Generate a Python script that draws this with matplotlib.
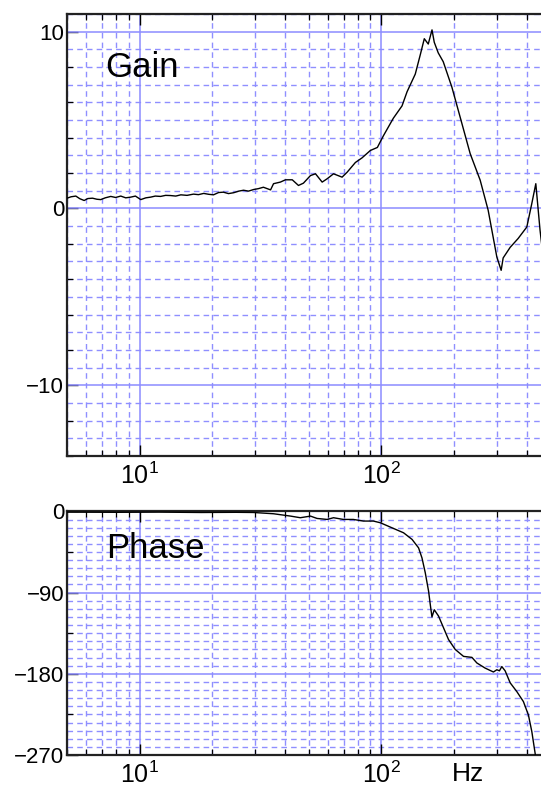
import numpy as np
import matplotlib
matplotlib.use("Agg")
import matplotlib.pyplot as plt
from matplotlib.ticker import LogLocator, FixedLocator, NullFormatter, LogFormatterSciNotation

plt.rcParams['font.family'] = ['Liberation Sans', 'DejaVu Sans']
plt.rcParams['mathtext.fontset'] = 'custom'
plt.rcParams['mathtext.rm'] = 'Liberation Sans'
plt.rcParams['mathtext.it'] = 'Liberation Sans'

# gain curve (Hz, dB)
gain_freq = [5.0, 5.2, 5.44, 5.65, 5.89, 6.1, 6.38, 6.65, 6.90, 7.2, 7.59, 7.95, 8.35,
             8.75, 9.18, 9.6, 10.1, 10.6, 11.1, 11.6, 12.2, 12.8, 13.4, 14.1,
             14.8, 15.7, 16.7, 17.5, 18.4, 19.3, 20.2, 21.2, 22.2, 23.3, 24.5, 25.7,
             26.9, 28.2, 29.6, 31.0, 32.5, 34.8, 35.8, 38.2,
             40.1, 42.8, 45.4, 47.6, 50.9, 53.4, 56.9, 59.7, 63.4, 68.8, 72.2, 78.1,
             83.2, 90.1, 96.3, 101.9, 112.1, 121.8, 127.8, 138.2, 145.0, 150.6, 156.4,
             162.1, 165.6, 172.0, 180.4, 196.0, 212.1, 233.2, 256.5, 276.8, 300.7,
             313.3, 319.3, 341.4, 368.3, 400.1, 419.6, 435.9, 453.9, 470.0]
gain_db = [0.58, 0.66, 0.70, 0.55, 0.45, 0.56, 0.58, 0.52, 0.50, 0.60, 0.68, 0.62, 0.70,
           0.60, 0.64, 0.70, 0.50, 0.60, 0.64, 0.70, 0.68, 0.74, 0.73, 0.70,
           0.77, 0.74, 0.81, 0.78, 0.85, 0.80, 0.77, 0.90, 0.92, 0.84, 0.89, 0.98,
           1.03, 0.98, 1.07, 1.12, 1.20, 1.05, 1.40, 1.49,
           1.62, 1.62, 1.30, 1.43, 1.86, 1.96, 1.49, 1.68, 1.96, 1.77, 2.05, 2.60,
           2.86, 3.28, 3.45, 4.10, 5.10, 5.80, 6.60, 7.60, 8.70, 9.60, 9.30,
           10.1, 9.40, 8.80, 8.30, 6.85, 5.15, 3.10, 1.60, -0.10, -2.75,
           -3.50, -2.80, -2.20, -1.70, -1.05, 0.28, 1.40, -1.24, -3.0]

# phase curve (Hz, degrees)
phase_freq = [5.0, 8.0, 12.0, 18.0, 25.0, 29.6, 35.8, 42.1, 46.2, 50.9, 54.2, 59.7,
              63.4, 69.7, 76.6, 84.3, 92.7, 99.1, 109.0, 123.6, 134.0, 142.6, 147.3,
              152.0, 156.9, 159.4, 162.0, 165.6, 172.5, 180.9, 189.7, 202.2, 218.9,
              237.1, 248.6, 269.0, 291.1, 300.7, 308.2, 315.3, 325.4, 341.4, 363.7,
              387.3, 406.2, 419.6, 433.0, 441.2]
phase_deg = [-0.8, -1.0, -0.8, -1.2, -1.0, -1.2, -2.6, -5.2, -7.0, -5.2, -7.8, -8.9,
             -7.0, -8.9, -8.9, -10.7, -10.7, -12.6, -17.4, -23.7, -31.0, -40.4, -51.5,
             -68.0, -88.5, -103.0, -117.0, -109.0, -116.0, -129.0, -142.0, -153.0, -160.7,
             -161.8, -168.0, -173.7, -178.0, -175.5, -176.7, -172.0, -176.7, -190.0, -199.7,
             -210.8, -225.6, -244.0, -268.0, -285.0]

x_range = (5.0, 458.0)

major_grid = dict(color='#8c8cff', lw=1.1, ls='-')
minor_grid = dict(color='#8f8fff', lw=1.0, ls=(0, (4, 3)))

fig = plt.figure(figsize=(5.41, 7.89), dpi=100)
ax_g = fig.add_axes([0.1238, 0.4221, 0.8762, 0.5602])
ax_p = fig.add_axes([0.1238, 0.0431, 0.8762, 0.3093])


def style_axis(ax, y_major, y_minor_ticks, y_dash):
    ax.set_xscale('log')
    ax.set_xlim(*x_range)
    ax.xaxis.set_major_locator(LogLocator(base=10))
    ax.xaxis.set_minor_locator(LogLocator(base=10, subs=np.arange(2, 10)))
    ax.xaxis.set_minor_formatter(NullFormatter())
    ax.xaxis.set_major_formatter(LogFormatterSciNotation())
    ax.yaxis.set_major_locator(FixedLocator(y_major))
    ax.yaxis.set_minor_locator(FixedLocator(y_minor_ticks))
    for v in y_dash:
        ax.axhline(v, zorder=0.5, **minor_grid)
    for v in y_major:
        ax.axhline(v, zorder=0.6, **major_grid)
    ax.grid(True, which='minor', axis='x', zorder=0.5, **minor_grid)
    ax.grid(True, which='major', axis='x', zorder=0.6, **major_grid)
    ax.set_axisbelow(True)
    ax.tick_params(which='both', direction='in', top=True, right=False, color='black')
    ax.tick_params(which='major', length=8, width=1.0)
    ax.tick_params(which='minor', length=4, width=0.9)
    ax.tick_params(axis='y', labelsize=16, pad=2)
    ax.tick_params(axis='x', labelsize=18, pad=5)
    ax.spines['right'].set_visible(False)
    for s in ('top', 'left', 'bottom'):
        ax.spines[s].set_linewidth(1.6)
        ax.spines[s].set_color('#222222')


gain_dash = [v for v in range(-14, 12) if v % 10 != 0]
style_axis(ax_g, [-10, 0, 10], [-14, -12, -8, -6, -4, -2, 2, 4, 6, 8], gain_dash)
ax_g.set_ylim(-14, 11)
ax_g.plot(gain_freq, gain_db, color='black', lw=1.0, zorder=3)
ax_g.text(0.080, 0.857, 'Gain', transform=ax_g.transAxes, fontsize=25, va='baseline')

phase_dash = [v for v in range(-270, 1, 9) if v % 90 != 0]
style_axis(ax_p, [-270, -180, -90, 0], [-225, -135, -45], phase_dash)
ax_p.set_ylim(-270, 0.5)
ax_p.plot(phase_freq, phase_deg, color='black', lw=1.0, zorder=3)
ax_p.text(0.082, 0.807, 'Phase', transform=ax_p.transAxes, fontsize=25, va='baseline')

for ax in (ax_g, ax_p):
    ax.set_yticklabels([str(int(t)).replace('-', '\u2212') for t in ax.get_yticks()])

fig.text(452 / 541, 0.004, 'Hz', fontsize=19, va='bottom', ha='left')

fig.savefig('out.png', dpi=100)
